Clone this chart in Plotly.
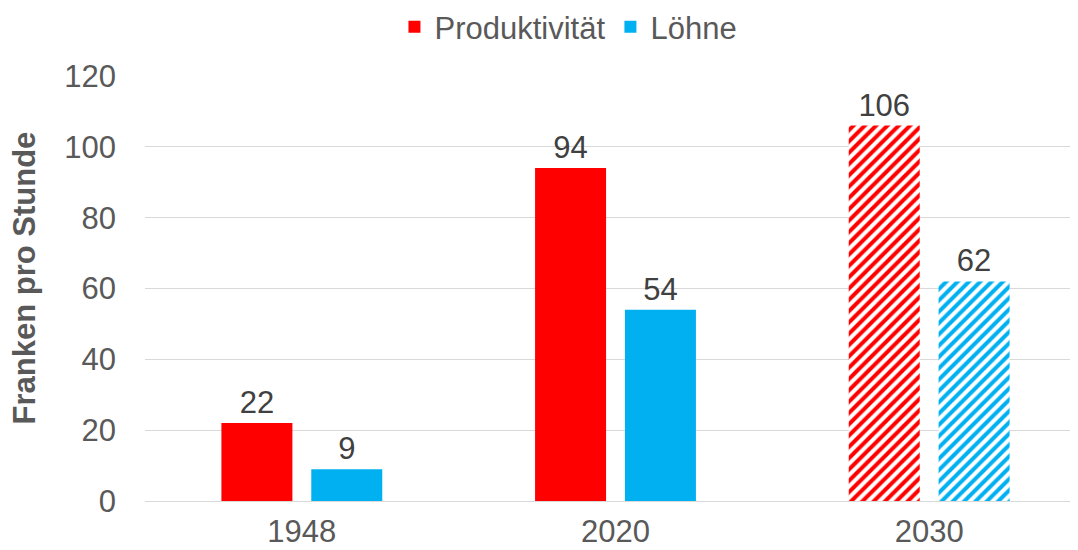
import plotly.graph_objects as go

years = ["1948", "2020", "2030"]
produktivitaet = [22, 94, 106]
loehne = [9, 54, 62]
patterns = ["", "", "/"]

RED = "#FF0000"
BLUE = "#00B0F0"
FONT = "Liberation Sans, Arial, sans-serif"
GREY = "#595959"

fig = go.Figure()
for name, vals, col in [("Produktivität", produktivitaet, RED), ("Löhne", loehne, BLUE)]:
    fig.add_trace(go.Bar(
        name=name, x=years, y=vals,
        marker=dict(color=col, line=dict(width=0),
                    pattern=dict(shape=patterns, fgcolor=col, bgcolor="white", size=8,
                                 solidity=0.5, fillmode="replace")),
        text=[str(v) for v in vals], textposition="outside",
        textfont=dict(size=31, color="#404040", family=FONT), cliponaxis=False,
    ))

fig.update_layout(
    width=1078, height=550,
    margin=dict(l=137, r=0, t=68, b=57, autoexpand=False),
    paper_bgcolor="white", plot_bgcolor="white",
    barmode="group", bargap=0.427, bargroupgap=0.21,
    font=dict(family=FONT, color=GREY, size=31),
    showlegend=True,
    legend=dict(orientation="h", x=0.45, xanchor="center", y=1 - 19 / 550, yanchor="middle",
                yref="container", font=dict(size=31, color=GREY),
                itemwidth=30, traceorder="normal"),
    xaxis=dict(showgrid=False, showline=True, linecolor="#D9D9D9", linewidth=1,
               ticks="", tickfont=dict(size=31, color=GREY), ticklabelstandoff=3),
    yaxis=dict(range=[0, 120], dtick=20, showgrid=True, gridcolor="#D9D9D9", gridwidth=1,
               zeroline=False, ticks="", tickfont=dict(size=31, color=GREY), ticklabelstandoff=28),
    annotations=[dict(text="<b>Franken pro Stunde</b>", textangle=-90, xref="paper", yref="paper",
                      x=0, y=0.5, xanchor="center", yanchor="middle", xshift=-121, yshift=10,
                      showarrow=False, font=dict(size=31, color=GREY, family=FONT))],
)

fig.write_html("out.html")
